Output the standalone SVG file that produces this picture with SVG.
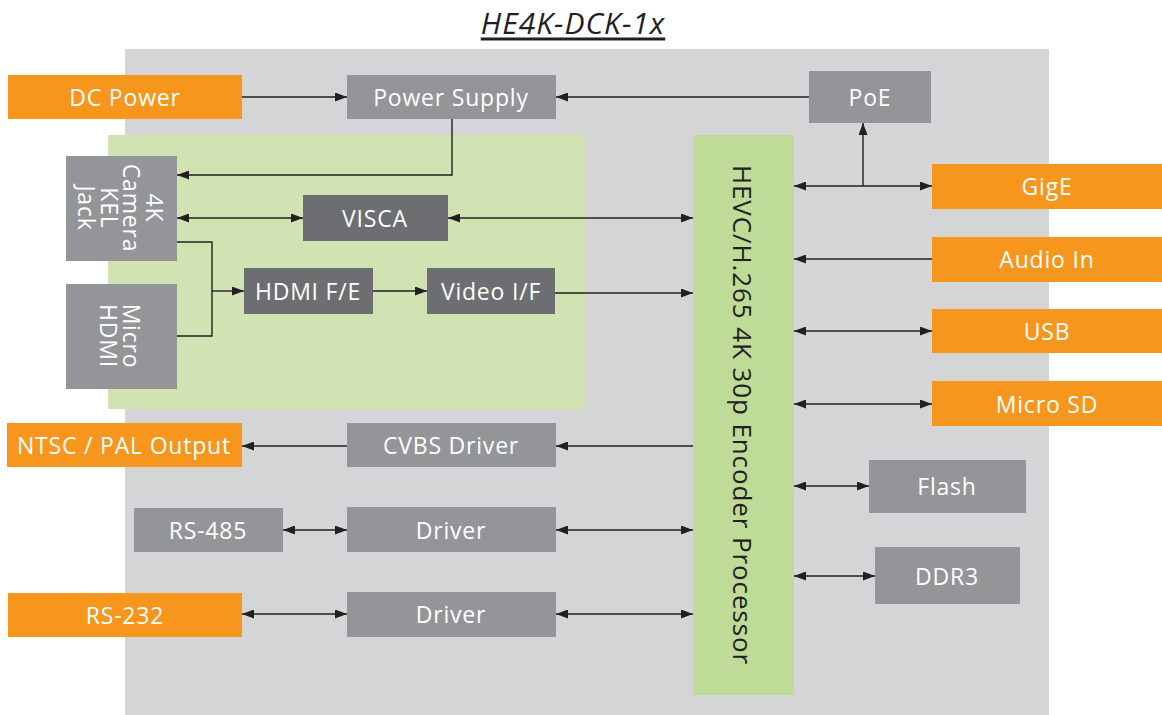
<svg xmlns="http://www.w3.org/2000/svg" width="1162" height="715" viewBox="0 0 1162 715">
<style>
.org{fill:#F7961D}
.gry{fill:#939598}
.dk{fill:#6D6E71}
.t{font-family:"Open Sans","DejaVu Sans",sans-serif;font-size:23px;letter-spacing:0.8px;fill:#fff;text-anchor:middle;dominant-baseline:central}
.ln{fill:none;stroke:#231F20;stroke-width:1.4}
</style>
<defs>
<marker id="a" viewBox="0 0 12 9" refX="12" refY="4.5" markerWidth="12" markerHeight="9" markerUnits="userSpaceOnUse" orient="auto-start-reverse">
<path d="M0,0 L12,4.5 L0,9 z" fill="#231F20"/>
</marker>
</defs>
<rect width="1162" height="715" fill="#fff"/>
<text x="573" y="22" font-family="Open Sans, DejaVu Sans, sans-serif" font-size="30" letter-spacing="1" font-style="italic" fill="#231F20" text-anchor="middle" dominant-baseline="central" text-decoration="underline">HE4K-DCK-1x</text>
<rect id="board" x="125" y="49" width="924" height="666" fill="#D4D5D7"/>
<rect id="camera-area" x="108" y="135" width="477" height="274" fill="#D1E3B3"/>

<g id="dc-power"><rect class="org" x="8" y="75" width="234" height="44"/><text class="t" x="125" y="97">DC Power</text></g>
<g id="power-supply"><rect class="gry" x="347" y="75" width="209" height="44"/><text class="t" x="451" y="97">Power Supply</text></g>
<g id="poe"><rect class="gry" x="809" y="71" width="122" height="52"/><text class="t" x="870" y="97">PoE</text></g>
<g id="processor"><rect x="693" y="135" width="101" height="560" fill="#BEDB98"/><text x="743" y="415" font-family="Open Sans, DejaVu Sans, sans-serif" font-size="26" letter-spacing="0.9" fill="#231F20" text-anchor="middle" dominant-baseline="central" transform="rotate(90 743 415)">HEVC/H.265 4K 30p Encoder Processor</text></g>
<g id="camera"><rect class="gry" x="66" y="156" width="111" height="105"/><text class="t" transform="translate(121 208) rotate(90)"><tspan x="0" y="-34">4K</tspan><tspan x="0" y="-11">Camera</tspan><tspan x="0" y="11">KEL</tspan><tspan x="0" y="34">Jack</tspan></text></g>
<g id="micro-hdmi"><rect class="gry" x="66" y="284" width="111" height="105"/><text class="t" transform="translate(121 336) rotate(90)"><tspan x="0" y="-11">Micro</tspan><tspan x="0" y="12">HDMI</tspan></text></g>
<g id="visca"><rect class="dk" x="303" y="195" width="145" height="46"/><text class="t" x="375" y="218">VISCA</text></g>
<g id="hdmi-fe"><rect class="dk" x="244" y="268" width="129" height="46"/><text class="t" x="308" y="291">HDMI F/E</text></g>
<g id="video-if"><rect class="dk" x="427" y="268" width="128" height="46"/><text class="t" x="491" y="291">Video I/F</text></g>
<g id="ntsc"><rect class="org" x="7" y="423" width="235" height="44"/><text class="t" x="124" y="445">NTSC / PAL Output</text></g>
<g id="cvbs"><rect class="gry" x="347" y="423" width="209" height="44"/><text class="t" x="451" y="445">CVBS Driver</text></g>
<g id="rs485"><rect class="gry" x="134" y="508" width="149" height="44"/><text class="t" x="208" y="530">RS-485</text></g>
<g id="driver1"><rect class="gry" x="347" y="507" width="209" height="45"/><text class="t" x="451" y="530">Driver</text></g>
<g id="rs232"><rect class="org" x="8" y="593" width="234" height="44"/><text class="t" x="125" y="615">RS-232</text></g>
<g id="driver2"><rect class="gry" x="347" y="592" width="209" height="45"/><text class="t" x="451" y="614">Driver</text></g>
<g id="gige"><rect class="org" x="932" y="164" width="230" height="45"/><text class="t" x="1047" y="186">GigE</text></g>
<g id="audio-in"><rect class="org" x="932" y="237" width="230" height="45"/><text class="t" x="1047" y="259">Audio In</text></g>
<g id="usb"><rect class="org" x="932" y="309" width="230" height="44"/><text class="t" x="1047" y="331">USB</text></g>
<g id="micro-sd"><rect class="org" x="932" y="381" width="230" height="45"/><text class="t" x="1047" y="404">Micro SD</text></g>
<g id="flash"><rect class="gry" x="869" y="460" width="157" height="53"/><text class="t" x="947" y="486">Flash</text></g>
<g id="ddr3"><rect class="gry" x="875" y="547" width="145" height="57"/><text class="t" x="947" y="576">DDR3</text></g>

<g id="connectors" class="ln">
<path d="M242,97 H347" marker-end="url(#a)"/>
<path d="M809,97 H556" marker-end="url(#a)"/>
<path d="M452,119 V175 H177" marker-end="url(#a)"/>
<path d="M177,218 H303" marker-start="url(#a)" marker-end="url(#a)"/>
<path d="M448,218 H693" marker-start="url(#a)" marker-end="url(#a)"/>
<path d="M177,242 H212 V336 H177"/>
<path d="M212,291 H244" marker-end="url(#a)"/>
<path d="M373,291 H427" marker-end="url(#a)"/>
<path d="M555,293 H693" marker-end="url(#a)"/>
<path d="M693,446 H556" marker-end="url(#a)"/>
<path d="M347,446 H242" marker-end="url(#a)"/>
<path d="M283,530 H347" marker-start="url(#a)" marker-end="url(#a)"/>
<path d="M556,530 H693" marker-start="url(#a)" marker-end="url(#a)"/>
<path d="M242,614 H347" marker-start="url(#a)" marker-end="url(#a)"/>
<path d="M556,614 H693" marker-start="url(#a)" marker-end="url(#a)"/>
<path d="M794,186 H932" marker-start="url(#a)" marker-end="url(#a)"/>
<path d="M863,186 V123" marker-end="url(#a)"/>
<path d="M932,259 H794" marker-end="url(#a)"/>
<path d="M794,331 H932" marker-start="url(#a)" marker-end="url(#a)"/>
<path d="M794,404 H932" marker-start="url(#a)" marker-end="url(#a)"/>
<path d="M794,486 H869" marker-start="url(#a)" marker-end="url(#a)"/>
<path d="M794,576 H875" marker-start="url(#a)" marker-end="url(#a)"/>
</g>
</svg>
